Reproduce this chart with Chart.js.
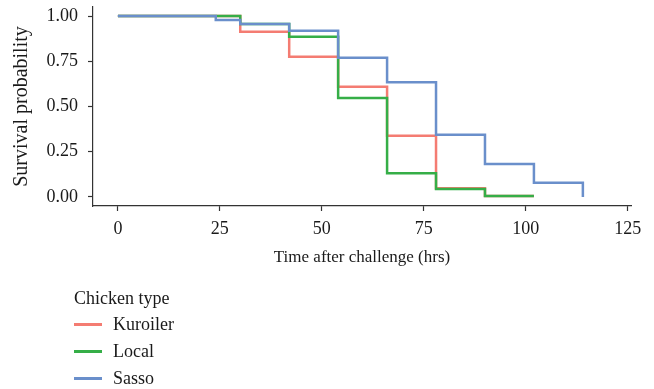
<!DOCTYPE html>
<html>
<head>
<meta charset="utf-8">
<script src="https://cdn.jsdelivr.net/npm/chart.js@4"></script>
<style>
  body { margin: 0; background: #fff; }
  #wrap { position: relative; width: 654px; height: 389px; font-family: "Liberation Serif", serif; color: #1a1a1a; }
  #legend { position: absolute; left: 74px; top: 286px; font-size: 18px; }
  #legend .ttl { height: 25px; line-height: 25px; }
  #legend .item { height: 27px; line-height: 27px; display: flex; align-items: center; }
  #legend .sw { width: 28px; height: 2.5px; margin-right: 11px; }
</style>
</head>
<body>
<div id="wrap">
  <canvas id="km" width="654" height="389"></canvas>
  <div id="legend"></div>
</div>
<script>
// survival curves (time in hrs, survival probability)
var kuroilerTime = [0, 30, 42, 54, 66, 78, 90, 102];
var kuroilerSurv = [1.00, 0.913, 0.775, 0.609, 0.339, 0.048, 0.005, 0.005];
var localTime = [0, 30, 42, 54, 66, 78, 90, 102];
var localSurv = [1.00, 0.956, 0.886, 0.547, 0.131, 0.044, 0.005, 0.005];
var sassoTime = [0, 24, 30, 42, 54, 66, 78, 90, 102, 114];
var sassoSurv = [1.00, 0.978, 0.956, 0.919, 0.770, 0.634, 0.344, 0.182, 0.079, 0.00];

var seriesNames = ["Kuroiler", "Local", "Sasso"];
var seriesColors = ["#F47C72", "#35AE47", "#6A8FCB"];
var xTicks = [0, 25, 50, 75, 100, 125];
var yTicks = [0, 0.25, 0.5, 0.75, 1];

function pts(t, s){
    return t.map(function(v, i){ return {x: v, y: s[i]}; });
}

var times = [kuroilerTime, localTime, sassoTime];
var survs = [kuroilerSurv, localSurv, sassoSurv];
var datasets = seriesNames.map(function(name, i){
    return {
        label: name,
        data: pts(times[i], survs[i]),
        stepped: true,
        borderColor: seriesColors[i],
        borderWidth: 2.5,
        pointRadius: 0,
        fill: false,
        order: 3 - i
    };
});

var axisColor = "#333";
var txtColor = "#1a1a1a";
var tickFont = {family: "Liberation Serif", size: 18};
var titleFont = {family: "Liberation Serif", size: 17};

new Chart(document.getElementById("km").getContext("2d"), {
    type: "line",
    data: {datasets: datasets},
    options: {
        responsive: false,
        animation: false,
        layout: {padding: {left: 0, top: 7, right: 23, bottom: 121}},
        plugins: {legend: {display: false}, tooltip: {enabled: false}},
        scales: {
            x: {
                type: "linear",
                min: -6.1, max: 125.8,
                afterBuildTicks: function(s){ s.ticks = xTicks.map(function(v){ return {value: v}; }); },
                afterFit: function(s){ s.height = 62; s.paddingLeft = 0; s.paddingRight = 0; },
                border: {display: true, color: axisColor, width: 1.2},
                grid: {drawOnChartArea: false, drawTicks: true, tickLength: 5, color: axisColor, tickWidth: 1.2},
                ticks: {font: tickFont, color: txtColor, padding: 7, maxRotation: 0,
                        callback: function(v){ return String(v); }},
                title: {display: true, text: "Time after challenge (hrs)", font: titleFont, color: txtColor,
                        padding: {top: 0, bottom: 0}}
            },
            y: {
                type: "linear",
                min: -0.05, max: 1.05,
                afterBuildTicks: function(s){ s.ticks = yTicks.map(function(v){ return {value: v}; }); },
                afterFit: function(s){ s.width = 93; s.paddingTop = 0; s.paddingBottom = 0; },
                border: {display: true, color: axisColor, width: 1.2},
                grid: {drawOnChartArea: false, drawTicks: true, tickLength: 5, color: axisColor, tickWidth: 1.2},
                ticks: {font: tickFont, color: txtColor, padding: 10,
                        callback: function(v){ return v.toFixed(2); }},
                title: {display: true, text: "Survival probability", font: {family: "Liberation Serif", size: 20}, color: txtColor,
                        padding: {top: 10, bottom: 0}}
            }
        }
    }
});

// legend laid out vertically under the plot
var lg = document.getElementById("legend");
var html = '<div class="ttl">Chicken type</div>';
seriesNames.forEach(function(n, i){
    html += '<div class="item"><span class="sw" style="background:' + seriesColors[i] + '"></span>' + n + '</div>';
});
lg.innerHTML = html;
</script>
</body>
</html>
